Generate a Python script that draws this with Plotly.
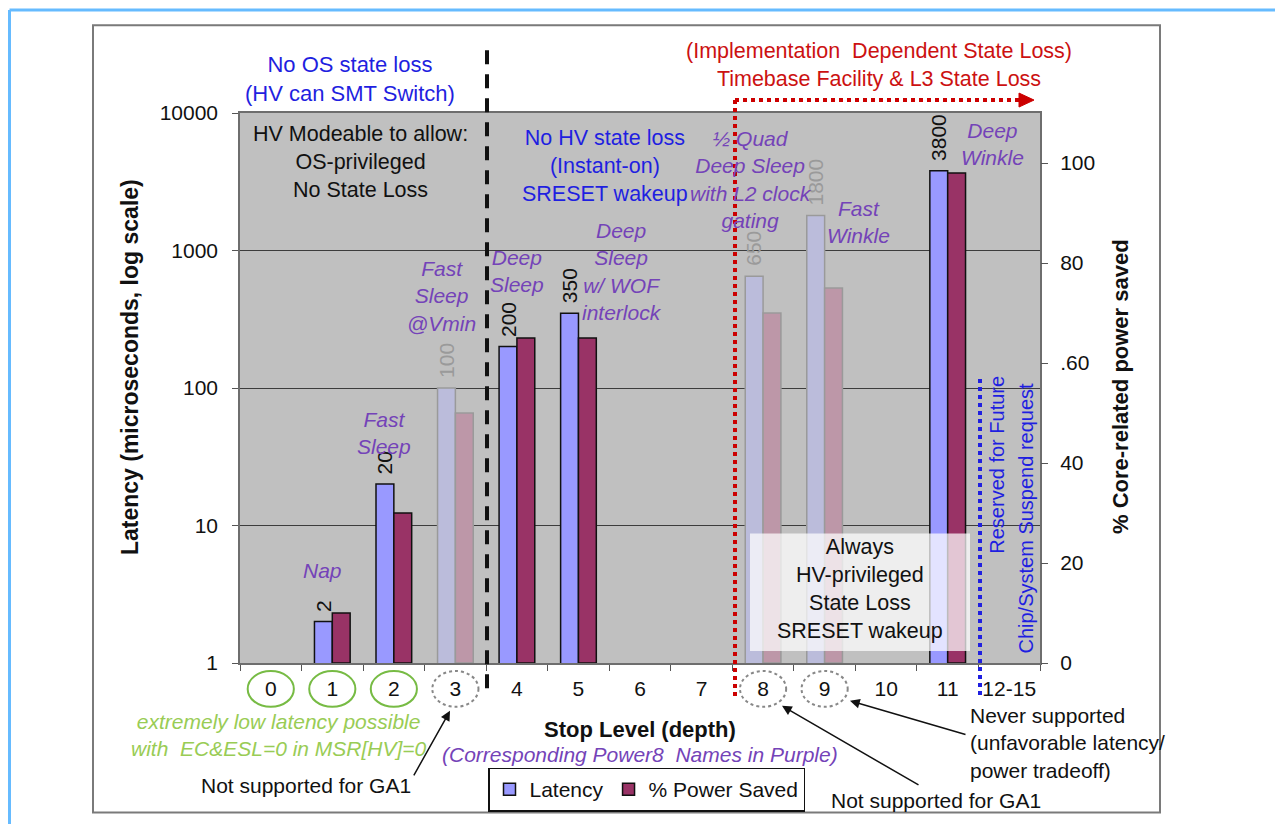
import math
import plotly.graph_objects as go

# ── Data ─────────────────────────────────────────────────────────────────────
stop_levels = ["0", "1", "2", "3", "4", "5", "6", "7", "8", "9", "10", "11", "12-15"]
latency_us = [None, 2, 20, 100, 200, 350, None, None, 650, 1800, None, 3800, None]
power_saved = [None, 10, 30, 50, 65, 65, None, None, 70, 75, None, 98, None]
not_supported_ga1 = ["3", "8", "9"]
low_latency_levels = ["0", "1", "2"]

left_ticks = [1, 10, 100, 1000, 10000]
left_ticktext = ["1", "10", "100", "1000", "10000"]
right_ticks = [0, 20, 40, 60, 80, 100]
right_ticktext = ["0", "20", "40", ".60", "80", "100"]

# ── Colours / fonts ──────────────────────────────────────────────────────────
FONT = "'Liberation Sans', Arial, sans-serif"
LAT_COLOR, LAT_FADED = "#9999FF", "#BBBCDB"
PWR_COLOR, PWR_FADED = "#993366", "#BD97A8"
PURPLE = "#7443B8"
BLUE = "#1F1FE0"
RED = "#CC1111"
GREEN_TXT = "#99CC55"
GREEN_LINE = "#77BB44"

# plot area in page pixels (page has an 8px body margin)
L, R, T, B = 240, 1040, 113, 665
OFF = 8
W, H = 1283 - 2 * OFF, 832 - 2 * OFF


def px(x):
    return (x - L) / (R - L)


def py(y):
    return (B - y) / (B - T)


faded = [lvl in not_supported_ga1 for lvl in stop_levels]
lat_colors = [LAT_FADED if f else LAT_COLOR for f in faded]
pwr_colors = [PWR_FADED if f else PWR_COLOR for f in faded]
line_colors = ["#9A9A9A" if f else "#111111" for f in faded]

fig = go.Figure()
fig.add_trace(go.Bar(
    x=stop_levels, y=latency_us, name="Latency",
    width=0.29, offset=-0.29,
    marker=dict(color=lat_colors, line=dict(color=line_colors, width=1.5)),
    yaxis="y",
))
fig.add_trace(go.Bar(
    x=stop_levels, y=power_saved, name="% Power Saved",
    width=0.29, offset=0,
    marker=dict(color=pwr_colors, line=dict(color=line_colors, width=1.5)),
    yaxis="y2",
))

ann = []


def text(x, y, s, color="#111111", size=21, italic=False, bold=False,
         angle=0, xanchor="center", align="center"):
    if bold:
        s = f"<b>{s}</b>"
    if italic:
        s = f"<i>{s}</i>"
    ann.append(dict(
        x=px(x), y=py(y), xref="paper", yref="paper", text=s, showarrow=False,
        xanchor=xanchor, yanchor="middle", align=align, textangle=angle,
        font=dict(family=FONT, size=size, color=color),
    ))


# value labels above latency bars
for lvl, v, f in zip(stop_levels, latency_us, faded):
    if v is None:
        continue
    ann.append(dict(
        x=lvl, y=math.log10(v), xref="x", yref="y",
        text=str(v), showarrow=False, textangle=-90,
        xanchor="center", yanchor="bottom", xshift=-9, yshift=8,
        font=dict(family=FONT, size=21, color="#9A9A9A" if f else "#111111"),
    ))

# header / region notes
text(350, 79, "No OS state loss<br>(HV can SMT Switch)", BLUE, size=22)
text(360, 162, "HV Modeable to allow:<br>OS-privileged<br>No State Loss", size=21.5)
text(605, 166, "No HV state loss<br>(Instant-on)<br>SRESET wakeup", BLUE, size=21.5)
text(879, 65, "(Implementation  Dependent State Loss)<br>Timebase Facility & L3 State Loss", RED, size=21.5)
text(860, 591, "Always<br>HV-privileged<br>State Loss<br>SRESET wakeup", size=21.5)
text(997, 466, "Reserved for Future", BLUE, size=20, angle=-90)
text(1026, 520, "Chip/System Suspend request", BLUE, size=20, angle=-90)

# Power8 names
text(322, 572, "Nap", PURPLE, italic=True)
text(384, 434, "Fast<br>Sleep", PURPLE, italic=True)
text(441, 297, "Fast<br>Sleep<br>@Vmin", PURPLE, italic=True)
text(517, 272, "Deep<br>Sleep", PURPLE, italic=True)
text(622, 272, "Deep<br>Sleep<br>w/ WOF<br>interlock", PURPLE, italic=True)
text(751, 180, "½ Quad<br>Deep Sleep<br>with L2 clock<br>gating", PURPLE, italic=True)
text(858, 222, "Fast<br>Winkle", PURPLE, italic=True)
text(992, 144, "Deep<br>Winkle", PURPLE, italic=True)

# axis titles
text(130, 368, "Latency (microseconds, log scale)", bold=True, size=23, angle=-90)
text(1120, 388, "% Core-related power saved", bold=True, size=22, angle=-90)
text(640, 732, "Stop Level (depth)", bold=True, size=22)
text(640, 757, "(Corresponding Power8  Names in Purple)", PURPLE, italic=True, size=21)

# bottom notes
text(279, 737, "extremely low latency possible<br>with  EC&ESL=0 in MSR[HV]=0", GREEN_TXT, italic=True)
text(306, 788, "Not supported for GA1")
text(936, 803, "Not supported for GA1")
text(968, 745, "Never supported<br>(unfavorable latency/<br>power tradeoff)", xanchor="left", align="left")


def arrow(x0, y0, x1, y1):
    ann.append(dict(
        x=px(x1), y=py(y1), xref="paper", yref="paper", ax=x0 - x1, ay=y0 - y1,
        text="", showarrow=True, arrowhead=2, arrowsize=1.3, arrowwidth=1.5,
        arrowcolor="#111111",
    ))


arrow(413, 779, 450, 713)
arrow(920, 788, 782, 708)
arrow(967, 737, 850, 703)

# ── Shapes ───────────────────────────────────────────────────────────────────
shapes = []


def line(x0, y0, x1, y1, color, width, dash="solid", layer="above"):
    shapes.append(dict(type="line", xref="paper", yref="paper",
                       x0=px(x0), y0=py(y0), x1=px(x1), y1=py(y1),
                       line=dict(color=color, width=width, dash=dash), layer=layer))


# page frames: light blue edge at top/left, grey chart border
line(OFF + 1.5, OFF + 1.5, OFF + 1.5, 832, "#66BBFF", 3, layer="below")
line(OFF + 1.5, OFF + 1.5, 1283, OFF + 1.5, "#66BBFF", 3, layer="below")
shapes.append(dict(type="rect", xref="paper", yref="paper", x0=px(93), y0=py(25),
                   x1=px(1160), y1=py(815), line=dict(color="#7A7A7A", width=2), layer="below"))

line(487, 50, 487, 700, "#111111", 4, "14px,10px")
line(735, 100, 735, 700, "#CC0000", 4, "dot")
line(735, 100, 1020, 100, "#CC0000", 4, "dot")
shapes.append(dict(type="path", xref="paper", yref="paper",
                   path=f"M{px(1019)},{py(93)} L{px(1034)},{py(100)} L{px(1019)},{py(107)} Z",
                   fillcolor="#CC0000", line=dict(color="#CC0000", width=1), layer="above"))
line(980, 380, 980, 700, BLUE, 4, "dot")

# translucent note box
shapes.append(dict(type="rect", xref="paper", yref="paper", x0=px(750), y0=py(535),
                   x1=px(970), y1=py(653), fillcolor="rgba(255,255,255,0.72)",
                   line=dict(width=0), layer="above"))

# circles round tick labels
for i, lvl in enumerate(stop_levels):
    if lvl in low_latency_levels:
        ln = dict(color=GREEN_LINE, width=2)
    elif lvl in not_supported_ga1:
        ln = dict(color="#888888", width=2, dash="dot")
    else:
        continue
    shapes.append(dict(type="circle", xref="x", yref="paper",
                       x0=i - 0.375, x1=i + 0.375, y0=py(673), y1=py(709), line=ln))

fig.update_layout(
    width=W, height=H,
    margin=dict(l=L - OFF, r=W - (R - OFF), t=T - OFF, b=H - (B - OFF), pad=0),
    paper_bgcolor="#ffffff",
    plot_bgcolor="#C0C0C0",
    font=dict(family=FONT, size=21, color="#111111"),
    barmode="overlay",
    xaxis=dict(
        type="category", categoryorder="array", categoryarray=stop_levels,
        range=[-0.5, len(stop_levels) - 0.5],
        tickson="boundaries", ticks="outside", ticklen=6, tickcolor="#555555",
        tickangle=0,
        tickfont=dict(size=21, color="#111111"), ticklabelstandoff=6,
        showline=True, linecolor="#6E6E6E", linewidth=1.5, mirror=True,
        showgrid=False, fixedrange=True,
    ),
    yaxis=dict(
        type="log", range=[0, 4], tickvals=left_ticks, ticktext=left_ticktext,
        ticks="outside", ticklen=6, tickcolor="#555555",
        tickfont=dict(size=21, color="#111111"), ticklabelstandoff=10,
        showline=True, linecolor="#6E6E6E", linewidth=1.5, mirror=True,
        showgrid=True, gridcolor="#3C3C3C", gridwidth=1.2,
    ),
    yaxis2=dict(
        overlaying="y", side="right", range=[0, 110],
        tickvals=right_ticks, ticktext=right_ticktext,
        ticks="outside", ticklen=7, tickcolor="#555555",
        tickfont=dict(size=21, color="#111111"), ticklabelstandoff=8,
        showgrid=False, zeroline=False,
    ),
    showlegend=True,
    legend=dict(
        orientation="h", x=px(488), y=py(770), xanchor="left", yanchor="top",
        bgcolor="#ffffff", bordercolor="#111111", borderwidth=1.5,
        font=dict(size=21, color="#111111"), itemwidth=30,
    ),
    annotations=ann,
    shapes=shapes,
)

fig.write_html("out.html")
